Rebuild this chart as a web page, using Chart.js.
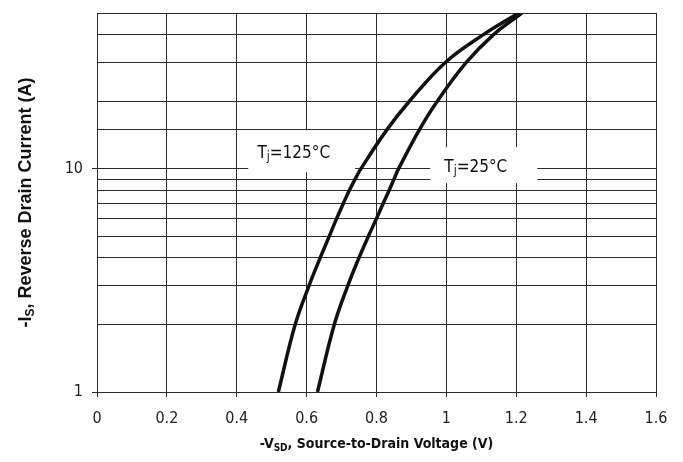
<!DOCTYPE html>
<html>
<head>
<meta charset="utf-8">
<script src="https://cdn.jsdelivr.net/npm/chart.js@4"></script>
<style>
  html, body { margin: 0; padding: 0; background: #fff; }
  #wrap { width: 683px; height: 462px; }
</style>
</head>
<body>
<div id="wrap"><canvas id="diodeChart"></canvas></div>
<script>
// Reverse drain current values (A)
const currents = [1, 2, 3, 4, 5, 6, 7, 8, 9, 10, 15, 20, 30, 40, 50];
// Source-to-drain voltage (V) for each current
const vsd125 = [0.519, 0.567, 0.607, 0.639, 0.665, 0.686, 0.705, 0.722, 0.739, 0.755, 0.830, 0.893, 0.997, 1.106, 1.207];
const vsd25 = [0.631, 0.679, 0.718, 0.750, 0.777, 0.800, 0.819, 0.836, 0.850, 0.863, 0.923, 0.973, 1.057, 1.135, 1.216];
// Axis ticks
const xTicks = [0, 0.2, 0.4, 0.6, 0.8, 1, 1.2, 1.4, 1.6];
const yLabelled = [1, 10];

const narrow = '"Liberation Sans Narrow", "DejaVu Sans Condensed", "Liberation Sans", sans-serif';
const gridColor = '#2b2b2b';

function toPoints(xs) {
    return xs.map(function(v, i) { return { x: v, y: currents[i] }; });
}

// draws text made of several runs (for subscripts), centred on x
function drawRuns(ctx, runs, x, y) {
    let total = 0;
    runs.forEach(function(r) {
        ctx.font = r.font;
        r.w = ctx.measureText(r.text).width;
        total += r.w;
    });
    let cx = x - total / 2;
    runs.forEach(function(r) {
        ctx.font = r.font;
        ctx.fillText(r.text, cx, y + (r.dy || 0));
        cx += r.w;
    });
}

// Curve labels with white boxes behind them (positions in data units)
const curveLabels = [
    { v: 0.586, i: 12.0, w: 107, h: 42, temp: '=125°C' },
    { v: 1.107, i: 10.4, w: 107, h: 36, temp: '=25°C' }
];

const labelPlugin = {
    id: 'labels',
    afterDatasetsDraw: function(chart) {
        const ctx = chart.ctx;
        const xs = chart.scales.x, ys = chart.scales.y;
        ctx.save();
        ctx.textBaseline = 'middle';
        curveLabels.forEach(function(l) {
            const px = xs.getPixelForValue(l.v);
            const py = ys.getPixelForValue(l.i);
            ctx.fillStyle = '#fff';
            ctx.fillRect(px - l.w / 2, py - l.h / 2, l.w, l.h);
            ctx.fillStyle = '#111';
            drawRuns(ctx, [
                { text: 'T', font: '17px ' + narrow },
                { text: 'j', font: '12px ' + narrow, dy: 4 },
                { text: l.temp, font: '17px ' + narrow }
            ], px - 8, py + 2);
        });
        ctx.restore();
    },
    afterDraw: function(chart) {
        const ctx = chart.ctx;
        const area = chart.chartArea;
        ctx.save();
        ctx.fillStyle = '#111';
        ctx.textBaseline = 'alphabetic';
        // x axis title
        drawRuns(ctx, [
            { text: '-V', font: 'bold 14px ' + narrow },
            { text: 'SD', font: 'bold 10px ' + narrow, dy: 3 },
            { text: ', Source-to-Drain Voltage (V)', font: 'bold 14px ' + narrow }
        ], (area.left + area.right) / 2, 448);
        // y axis title
        ctx.translate(31, (area.top + area.bottom) / 2);
        ctx.rotate(-Math.PI / 2);
        drawRuns(ctx, [
            { text: '-I', font: 'bold 18px "Liberation Sans", Arial, sans-serif' },
            { text: 'S', font: 'bold 12px "Liberation Sans", Arial, sans-serif', dy: 3 },
            { text: ', Reverse Drain Current (A)', font: 'bold 18px "Liberation Sans", Arial, sans-serif' }
        ], 0, 0);
        ctx.restore();
    }
};

document.addEventListener('DOMContentLoaded', function() {
    const lineStyle = {
        borderColor: '#111',
        borderWidth: 3.5,
        pointRadius: 0,
        fill: false,
        tension: 0.4
    };

    new Chart(document.getElementById('diodeChart'), {
        type: 'line',
        data: {
            datasets: [
                Object.assign({ label: 'Tj=125°C', data: toPoints(vsd125) }, lineStyle),
                Object.assign({ label: 'Tj=25°C', data: toPoints(vsd25) }, lineStyle)
            ]
        },
        options: {
            responsive: true,
            maintainAspectRatio: false,
            animation: false,
            layout: { padding: { top: 13, right: 27, left: 0, bottom: 0 } },
            plugins: {
                legend: { display: false },
                tooltip: { enabled: false }
            },
            scales: {
                x: {
                    type: 'linear',
                    min: 0,
                    max: 1.6,
                    afterFit: function(scale) { scale.height = 70; },
                    afterBuildTicks: function(scale) {
                        scale.ticks = xTicks.map(function(v) { return { value: v }; });
                    },
                    grid: { color: gridColor, lineWidth: 1, tickLength: 5, tickColor: gridColor },
                    border: { color: gridColor },
                    ticks: {
                        padding: 12,
                        color: '#222',
                        font: { family: narrow, size: 16 },
                        callback: function(v) { return String(Number(v.toFixed(1))); }
                    }
                },
                y: {
                    type: 'logarithmic',
                    min: 1,
                    max: 50,
                    afterFit: function(scale) {
                        scale.width = 97;
                        scale.paddingTop = 0;
                        scale.paddingBottom = 0;
                    },
                    grid: {
                        color: gridColor,
                        lineWidth: 1,
                        tickLength: 5,
                        tickColor: function(c) {
                            return c.tick && yLabelled.indexOf(c.tick.value) >= 0 ? gridColor : 'rgba(0,0,0,0)';
                        }
                    },
                    border: { color: gridColor },
                    ticks: {
                        autoSkip: false,
                        padding: 9,
                        color: '#222',
                        font: { family: narrow, size: 16 },
                        callback: function(v) { return yLabelled.indexOf(v) >= 0 ? String(v) : ''; }
                    }
                }
            }
        },
        plugins: [labelPlugin]
    });
});
</script>
</body>
</html>
